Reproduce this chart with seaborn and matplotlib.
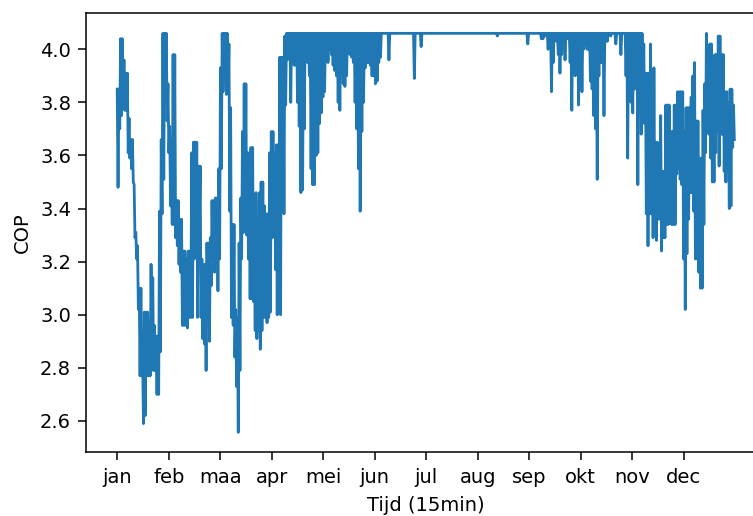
import numpy as np
import pandas as pd
import matplotlib
matplotlib.use("Agg")
import matplotlib.pyplot as plt
import seaborn as sns

# Daily upper value of the COP (days 0..364)
hoog = [
    3.85, 3.85, 4.04, 4.04, 3.96, 3.91, 3.91, 3.74, 3.66, 3.66,
    3.49, 3.31, 3.26, 3.10, 3.10, 2.84, 3.01, 3.01, 3.01, 2.96,
    3.19, 3.14, 2.96, 2.92, 2.92, 3.39, 3.66, 4.06, 4.06, 4.06,
    3.87, 3.71, 3.61, 3.98, 3.98, 3.43, 3.43, 3.36, 3.36, 3.24,
    3.24, 3.21, 3.24, 3.24, 3.61, 3.65, 3.65, 3.65, 3.56, 3.56,
    3.21, 3.19, 3.19, 3.27, 3.27, 3.29, 3.43, 3.43, 3.44, 3.44,
    3.55, 3.93, 4.06, 4.06, 4.06, 4.06, 4.02, 3.78, 3.34, 3.34,
    3.02, 2.99, 3.27, 3.44, 3.69, 3.87, 3.87, 3.61, 3.61, 3.63,
    3.63, 3.27, 3.46, 3.34, 3.46, 3.50, 3.50, 3.41, 3.38, 3.38,
    3.61, 3.69, 3.69, 3.61, 3.64, 3.64, 3.97, 3.97, 3.97, 4.05,
    4.06, 4.06, 4.06, 4.06, 4.06, 4.06, 4.06, 4.06, 4.06, 4.06,
    4.06, 4.06, 4.06, 4.06, 4.06, 4.06, 4.06, 4.06, 4.06, 4.06,
    4.06, 4.06, 4.06, 4.06, 4.06, 4.06, 4.06, 4.06, 4.06, 4.06,
    4.06, 4.06, 4.06, 4.06, 4.06, 4.06, 4.06, 4.06, 4.06, 4.06,
    4.06, 4.06, 4.06, 4.06, 4.06, 4.06, 4.06, 4.06, 4.06, 4.06,
    4.06, 4.06, 4.06, 4.06, 4.06, 4.06, 4.06, 4.06, 4.06, 4.06,
    4.06, 4.06, 4.06, 4.06, 4.06, 4.06, 4.06, 4.06, 4.06, 4.06,
    4.06, 4.06, 4.06, 4.06, 4.06, 4.06, 4.06, 4.06, 4.06, 4.06,
    4.06, 4.06, 4.06, 4.06, 4.06, 4.06, 4.06, 4.06, 4.06, 4.06,
    4.06, 4.06, 4.06, 4.06, 4.06, 4.06, 4.06, 4.06, 4.06, 4.06,
    4.06, 4.06, 4.06, 4.06, 4.06, 4.06, 4.06, 4.06, 4.06, 4.06,
    4.06, 4.06, 4.06, 4.06, 4.06, 4.06, 4.06, 4.06, 4.06, 4.06,
    4.06, 4.06, 4.06, 4.06, 4.06, 4.06, 4.06, 4.06, 4.06, 4.06,
    4.06, 4.06, 4.06, 4.06, 4.06, 4.06, 4.06, 4.06, 4.06, 4.06,
    4.06, 4.06, 4.06, 4.06, 4.06, 4.06, 4.06, 4.06, 4.06, 4.06,
    4.06, 4.06, 4.06, 4.06, 4.06, 4.06, 4.06, 4.06, 4.06, 4.06,
    4.06, 4.06, 4.06, 4.06, 4.06, 4.06, 4.06, 4.06, 4.06, 4.06,
    4.06, 4.06, 4.06, 4.06, 4.06, 4.06, 4.06, 4.06, 4.06, 4.06,
    4.06, 4.06, 4.06, 4.06, 4.06, 4.06, 4.06, 4.06, 4.06, 4.06,
    4.06, 4.06, 4.06, 4.06, 4.06, 4.06, 4.06, 4.06, 4.06, 4.06,
    4.06, 4.06, 4.06, 4.06, 4.06, 4.06, 4.06, 4.06, 4.06, 4.06,
    4.06, 4.02, 3.91, 3.91, 3.91, 4.02, 3.92, 3.93, 3.65, 3.65,
    3.54, 3.75, 3.54, 3.54, 3.79, 3.79, 3.79, 3.69, 3.69, 3.79,
    3.79, 3.84, 3.84, 3.84, 3.84, 3.69, 3.78, 3.78, 3.78, 3.82,
    3.90, 3.95, 3.73, 3.73, 3.59, 3.59, 3.77, 3.87, 4.06, 3.98,
    4.02, 4.02, 3.90, 3.98, 3.98, 4.05, 4.05, 3.98, 3.98, 3.84,
    3.84, 3.80, 3.85, 3.85, 3.79,
]

# Daily lower value of the COP (days 0..364)
laag = [
    3.48, 3.70, 3.75, 3.79, 3.77, 3.77, 3.61, 3.59, 3.55, 3.50,
    3.29, 3.21, 3.02, 2.77, 2.77, 2.59, 2.62, 2.77, 2.77, 2.77,
    2.84, 2.79, 2.79, 2.70, 2.70, 2.86, 3.38, 3.51, 3.87, 3.73,
    3.61, 3.41, 3.34, 3.34, 3.29, 3.26, 3.19, 3.16, 2.96, 2.96,
    2.96, 2.95, 2.99, 2.99, 2.99, 3.21, 3.34, 2.99, 3.34, 2.99,
    2.91, 2.89, 2.79, 3.04, 2.90, 3.11, 3.21, 3.16, 3.21, 3.09,
    3.21, 3.55, 3.84, 3.96, 3.83, 3.84, 3.39, 2.99, 2.96, 2.84,
    2.73, 2.557, 2.79, 3.21, 3.31, 3.34, 3.30, 3.21, 3.06, 3.06,
    3.05, 2.94, 2.91, 2.94, 2.87, 2.94, 2.99, 2.99, 2.97, 2.99,
    3.01, 3.29, 3.31, 3.17, 3.00, 3.29, 3.00, 3.71, 3.38, 3.79,
    3.96, 4.02, 3.80, 3.95, 3.94, 3.94, 3.80, 3.71, 3.46, 3.47,
    3.70, 3.98, 3.95, 3.90, 3.55, 3.49, 3.49, 3.60, 3.61, 3.72,
    3.76, 3.82, 3.84, 3.97, 3.95, 4.00, 3.98, 3.94, 3.92, 3.90,
    3.80, 3.77, 3.92, 3.87, 3.86, 3.90, 4.00, 3.98, 3.97, 3.95,
    3.80, 3.70, 3.55, 3.39, 3.69, 3.80, 3.93, 3.95, 3.95, 3.94,
    3.90, 3.90, 3.87, 3.88, 3.95, 3.97, 4.06, 4.06, 4.06, 4.06,
    3.96, 4.06, 4.06, 4.06, 4.06, 4.06, 4.06, 4.06, 4.06, 4.06,
    4.06, 4.06, 4.06, 4.06, 4.06, 3.89, 4.06, 4.06, 4.06, 4.01,
    4.06, 4.06, 4.06, 4.06, 4.06, 4.06, 4.06, 4.06, 4.06, 4.06,
    4.06, 4.06, 4.06, 4.06, 4.06, 4.06, 4.06, 4.06, 4.06, 4.06,
    4.06, 4.06, 4.06, 4.06, 4.06, 4.06, 4.06, 4.06, 4.06, 4.06,
    4.06, 4.06, 4.06, 4.06, 4.06, 4.06, 4.06, 4.06, 4.06, 4.06,
    4.06, 4.06, 4.06, 4.06, 4.05, 4.06, 4.06, 4.06, 4.06, 4.06,
    4.06, 4.06, 4.06, 4.06, 4.06, 4.06, 4.06, 4.06, 4.06, 4.06,
    4.06, 4.06, 4.02, 4.06, 4.06, 4.06, 4.06, 4.06, 4.06, 4.06,
    4.04, 4.04, 4.05, 4.06, 4.00, 4.03, 3.84, 3.95, 4.06, 4.03,
    3.98, 3.91, 3.98, 4.06, 3.96, 4.04, 4.04, 3.95, 3.77, 4.02,
    3.90, 3.92, 3.79, 3.97, 3.84, 4.00, 4.03, 4.00, 4.00, 3.88,
    3.85, 3.75, 3.70, 3.51, 3.90, 3.95, 3.95, 3.75, 4.03, 4.03,
    4.06, 4.05, 4.06, 4.06, 4.02, 4.06, 4.06, 3.98, 4.06, 4.06,
    3.90, 3.59, 3.85, 3.80, 3.76, 3.85, 3.90, 3.49, 3.93, 3.68,
    3.74, 3.72, 3.38, 3.26, 3.38, 3.38, 3.29, 3.39, 3.28, 3.36,
    3.36, 3.24, 3.29, 3.29, 3.34, 3.34, 3.35, 3.34, 3.34, 3.34,
    3.53, 3.55, 3.51, 3.49, 3.21, 3.02, 3.23, 3.36, 3.46, 3.46,
    3.39, 3.21, 3.21, 3.16, 3.10, 3.10, 3.34, 3.61, 3.69, 3.68,
    3.59, 3.50, 3.50, 3.61, 3.69, 3.56, 3.68, 3.68, 3.54, 3.50,
    3.56, 3.40, 3.41, 3.63, 3.66,
]

maanden = ["jan", "feb", "maa", "apr", "mei", "jun",
           "jul", "aug", "sep", "okt", "nov", "dec"]

n_kwartier = 35040            # 15-minute steps in one year
per_dag = 96                  # 15-minute steps per day

# one upper and one lower sample per day, half a day apart
cop = np.empty(2 * len(hoog))
cop[0::2] = hoog
cop[1::2] = laag
tijd = np.arange(len(cop)) * (per_dag // 2)
df = pd.DataFrame({"Tijd (15min)": tijd, "COP": cop})

plt.rcParams["font.family"] = ["DejaVu Sans"]
fig = plt.figure(figsize=(7.53, 5.16), dpi=100)
ax = fig.add_axes([86.3 / 753, (516 - 452.3) / 516,
                   (766.1 - 86.3) / 753, (452.3 - 13.4) / 516])

sns.lineplot(data=df, x="Tijd (15min)", y="COP", ax=ax,
             color="#1f77b4", linewidth=2.0)

ax.set_xlim(-0.05 * n_kwartier, 1.05 * n_kwartier)
stap = n_kwartier // 12
ax.set_xticks([i * stap for i in range(12)])
ax.set_xticklabels(maanden)
ax.set_yticks([2.6, 2.8, 3.0, 3.2, 3.4, 3.6, 3.8, 4.0])

ax.set_xlabel("Tijd (15min)", fontsize=14, labelpad=7)
ax.set_ylabel("COP", fontsize=14, labelpad=6)
ax.tick_params(axis="both", labelsize=14, length=6, width=1.1, pad=5)
for s in ax.spines.values():
    s.set_linewidth(1.1)

fig.savefig("out.png", dpi=100)
